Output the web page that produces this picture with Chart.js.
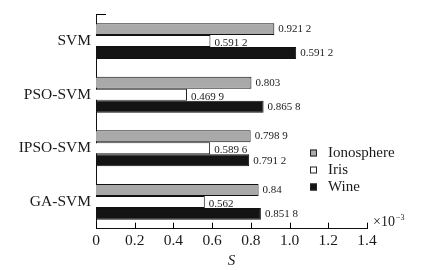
<!DOCTYPE html>
<html>
<head>
<meta charset="utf-8">
<script src="https://cdn.jsdelivr.net/npm/chart.js@4/dist/chart.umd.min.js"></script>
<style>
  html, body { margin: 0; padding: 0; background: #fff; }
  #wrap { width: 443px; height: 270px; position: relative; }
</style>
</head>
<body>
<div id="wrap"><canvas id="c" width="443" height="270"></canvas></div>
<script>
const categories = ['SVM', 'PSO-SVM', 'IPSO-SVM', 'GA-SVM'];
const seriesNames = ['Ionosphere', 'Iris', 'Wine'];
const ionosphere = [0.9212, 0.803, 0.7989, 0.84];
const iris = [0.5912, 0.4699, 0.5896, 0.562];
const wine = [1.034, 0.8658, 0.7912, 0.8518];
const ionosphereLabels = ['0.921 2', '0.803', '0.798 9', '0.84'];
const irisLabels = ['0.591 2', '0.469 9', '0.589 6', '0.562'];
const wineLabels = ['0.591 2', '0.865 8', '0.791 2', '0.851 8'];
const xTicks = ['0', '0.2', '0.4', '0.6', '0.8', '1.0', '1.2', '1.4'];

const FONT = '"Liberation Serif", "Times New Roman", serif';

const extras = {
  id: 'extras',
  afterDatasetsDraw(chart) {
    const ctx = chart.ctx;
    const xs = chart.scales.x;
    const area = chart.chartArea;
    ctx.save();
    // x-axis inward ticks
    ctx.strokeStyle = '#000';
    ctx.lineWidth = 1;
    xs.ticks.forEach(t => {
      const px = Math.round(xs.getPixelForValue(t.value)) + 0.5;
      ctx.beginPath();
      ctx.moveTo(px, area.bottom);
      ctx.lineTo(px, area.bottom - 6);
      ctx.stroke();
    });
    // y-axis top tick
    ctx.beginPath();
    ctx.moveTo(area.left, Math.round(area.top) + 0.5);
    ctx.lineTo(area.left + 10, Math.round(area.top) + 0.5);
    ctx.stroke();

    // data labels
    const labelSets = [ionosphereLabels, irisLabels, wineLabels];
    const dy = [0, 2, 0.5];
    ctx.font = '11px ' + FONT;
    ctx.fillStyle = '#1a1a1a';
    ctx.textAlign = 'left';
    ctx.textBaseline = 'middle';
    chart.data.datasets.forEach((ds, di) => {
      const meta = chart.getDatasetMeta(di);
      meta.data.forEach((bar, i) => {
        ctx.fillText(labelSets[di][i], bar.x + 4, bar.y + dy[di]);
      });
    });

    // x10^-3 multiplier
    ctx.font = '14px ' + FONT;
    ctx.textBaseline = 'middle';
    ctx.fillStyle = '#1a1a1a';
    ctx.fillText('×10', area.right + 6, area.bottom - 6);
    const w = ctx.measureText('×10').width;
    ctx.font = '8px ' + FONT;
    ctx.fillText('−3', area.right + 6 + w + 1, area.bottom - 11);

    // legend
    const lx = 310, ly = [153, 170, 187];
    chart.data.datasets.forEach((ds, di) => {
      const y = ly[di];
      ctx.fillStyle = ds.backgroundColor;
      ctx.fillRect(lx, y - 3.5, 7, 7);
      ctx.strokeStyle = '#222';
      ctx.lineWidth = 1;
      ctx.strokeRect(lx + 0.5, y - 3.5 + 0.5, 6, 6);
      ctx.fillStyle = '#1a1a1a';
      ctx.font = '15px ' + FONT;
      ctx.textBaseline = 'middle';
      ctx.fillText(ds.label, 328, y + 0.5);
    });
    ctx.restore();
  }
};

new Chart(document.getElementById('c'), {
  type: 'bar',
  data: {
    labels: categories,
    datasets: [
      { label: seriesNames[0], data: ionosphere, backgroundColor: '#a9a9a9', borderColor: '#111', borderWidth: 1 },
      { label: seriesNames[1], data: iris, backgroundColor: '#ffffff', borderColor: '#111', borderWidth: 1 },
      { label: seriesNames[2], data: wine, backgroundColor: '#141414', borderColor: '#111', borderWidth: 1 }
    ]
  },
  plugins: [extras],
  options: {
    indexAxis: 'y',
    responsive: false,
    animation: false,
    devicePixelRatio: 1,
    categoryPercentage: 0.67,
    barPercentage: 1.0,
    layout: { padding: { top: 14, right: 76, left: 0, bottom: 0 } },
    plugins: { legend: { display: false }, tooltip: { enabled: false } },
    scales: {
      x: {
        min: 0, max: 1.4,
        grid: { display: false, drawTicks: false },
        border: { display: true, color: '#111', width: 1 },
        ticks: {
          stepSize: 0.2,
          padding: 3,
          color: '#1a1a1a',
          font: { family: FONT, size: 15.5 },
          maxRotation: 0,
          autoSkip: false,
          callback: (v, i) => xTicks[i]
        },
        title: {
          display: true,
          text: 'S',
          color: '#1a1a1a',
          font: { family: FONT, size: 15, style: 'italic' },
          padding: { top: 0, bottom: 0 }
        },
        afterFit: s => { s.height = 41.3; }
      },
      y: {
        grid: { display: false, drawTicks: false },
        border: { display: true, color: '#111', width: 1 },
        ticks: {
          padding: 5,
          color: '#1a1a1a',
          font: { family: FONT, size: 15.5 }
        },
        afterFit: s => { s.width = 96; }
      }
    }
  }
});
</script>
</body>
</html>
